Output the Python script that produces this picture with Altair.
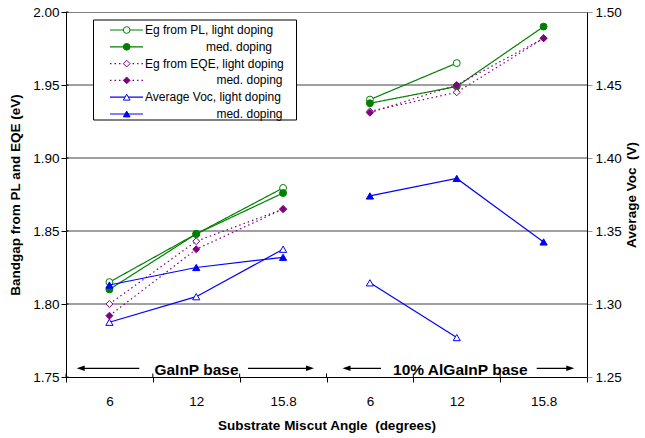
import altair as alt
import pandas as pd

# ---------------- data ----------------
angles = ["6", "12", "15.8"]
bases = ["GaInP", "AlGaInP"]

pl_light_gainp = [1.815, 1.848, 1.8795]
pl_med_gainp = [1.810, 1.848, 1.876]
pl_light_algainp = [1.940, 1.965, None]
pl_med_algainp = [1.9375, 1.949, 1.990]

eqe_light_gainp = [1.800, 1.843, 1.865]
eqe_med_gainp = [1.792, 1.8375, 1.865]
eqe_light_algainp = [1.932, 1.945, 1.982]
eqe_med_algainp = [1.931, 1.950, 1.982]

voc_light_gainp = [1.2875, 1.305, 1.3375]
voc_med_gainp = [1.313, 1.325, 1.332]
voc_light_algainp = [1.3145, 1.277, None]
voc_med_algainp = [1.374, 1.386, 1.3425]

left_ticks = [1.75, 1.80, 1.85, 1.90, 1.95, 2.00]
right_ticks = [1.25, 1.30, 1.35, 1.40, 1.45, 1.50]
grid_values = [1.80, 1.85, 1.90, 1.95]

legend_labels = ["Eg from PL, light doping", "med. doping",
                 "Eg from EQE, light doping", "med. doping",
                 "Average Voc, light doping", "med. doping"]

# ---------------- table building ----------------
slots = [f"{b}|{a}" for b in bases for a in angles]

def rows(family, doping, base, vals, field):
    out = []
    for a, v in zip(angles, vals):
        if v is None:
            continue
        out.append({"slot": f"{base}|{a}", "family": family, "doping": doping,
                    "grp": f"{family}-{doping}-{base}",
                    "fillkey": family if doping == "med" else "open",
                    field: v})
    return out

left_rows = []
left_rows += rows("PL", "light", "GaInP", pl_light_gainp, "value")
left_rows += rows("PL", "med", "GaInP", pl_med_gainp, "value")
left_rows += rows("PL", "light", "AlGaInP", pl_light_algainp, "value")
left_rows += rows("PL", "med", "AlGaInP", pl_med_algainp, "value")
left_rows += rows("EQE", "light", "GaInP", eqe_light_gainp, "value")
left_rows += rows("EQE", "med", "GaInP", eqe_med_gainp, "value")
left_rows += rows("EQE", "light", "AlGaInP", eqe_light_algainp, "value")
left_rows += rows("EQE", "med", "AlGaInP", eqe_med_algainp, "value")
left_df = pd.DataFrame(left_rows)

right_rows = []
right_rows += rows("Voc", "light", "GaInP", voc_light_gainp, "voc")
right_rows += rows("Voc", "med", "GaInP", voc_med_gainp, "voc")
right_rows += rows("Voc", "light", "AlGaInP", voc_light_algainp, "voc")
right_rows += rows("Voc", "med", "AlGaInP", voc_med_algainp, "voc")
right_df = pd.DataFrame(right_rows)

grid_df = pd.DataFrame({"value": grid_values})
lticks_df = pd.DataFrame({"value": left_ticks})
slot_df = pd.DataFrame({"slot": slots})

FONT = "Liberation Sans"
GREEN = "#008000"
PURPLE = "#800080"
BLUE = "#0000FF"
fam_domain = ["PL", "EQE", "Voc"]
fam_colors = [GREEN, PURPLE, BLUE]

OX, OY = 66, 12  # plot origin inside the page
PLOT_H = 365
def px(x):
    return x - OX
def py(y):
    return y - OY

color_enc = alt.Color("family:N", scale=alt.Scale(domain=fam_domain, range=fam_colors), legend=None)
stroke_enc = alt.Stroke("family:N", scale=alt.Scale(domain=fam_domain, range=fam_colors), legend=None)
fill_enc = alt.Fill("fillkey:N", scale=alt.Scale(domain=fam_domain + ["open"], range=fam_colors + ["white"]), legend=None)
dash_enc = alt.StrokeDash("family:N", scale=alt.Scale(domain=fam_domain, range=[[1, 0], [1.5, 3], [1, 0]]), legend=None)
shape_enc = alt.Shape("family:N", scale=alt.Scale(domain=fam_domain, range=["circle", "diamond", "triangle-up"]), legend=None)

x_scale = alt.Scale(type="band", domain=slots, paddingInner=0, paddingOuter=0)
x_axis = alt.Axis(
    labelExpr="split(datum.value, '|')[1]",
    labelAngle=0,
    tickBand="extent",
    tickSize=5,
    tickColor="black",
    domainColor="black",
    labelPadding=12,
    labelFontSize=13.5,
    titleFontSize=13.5,
    titleFontWeight="bold",
    titlePadding=11,
    grid=False,
)
x_title = "Substrate Miscut Angle\u00a0\u00a0(degrees)"
x_enc = alt.X("slot:N", scale=x_scale, sort=slots, axis=x_axis, title=x_title)
x_edge = alt.X("slot:N", scale=x_scale, sort=slots, axis=x_axis, title=x_title, bandPosition=0)

y_left = alt.Y(
    "value:Q",
    scale=alt.Scale(domain=[1.75, 2.00], nice=False, zero=False),
    axis=alt.Axis(
        orient="left",
        values=left_ticks,
        format=".2f",
        grid=False,
        tickSize=5,
        tickColor="black",
        domainColor="black",
        labelPadding=2,
        labelFontSize=13.5,
        titleFontSize=13.5,
        titleFontWeight="bold",
        titlePadding=10,
    ),
    title="Bandgap from PL and EQE (eV)",
)

y_right = alt.Y(
    "voc:Q",
    scale=alt.Scale(domain=[1.25, 1.50], nice=False, zero=False),
    axis=alt.Axis(
        orient="right",
        values=right_ticks,
        format=".2f",
        grid=False,
        tickSize=5,
        tickColor="#999999",
        domainColor="black",
        labelPadding=3,
        labelFontSize=13.5,
        titleFontSize=13.5,
        titleFontWeight="bold",
        titlePadding=17,
        titleAngle=270,
    ),
    title="Average Voc\u00a0\u00a0(V)",
)

grid = alt.Chart(grid_df).mark_rule(color="#404040", strokeWidth=1).encode(y=y_left)
inner_lticks = alt.Chart(lticks_df).mark_rule(color="black", strokeWidth=1).encode(
    y=y_left, x=alt.value(0), x2=alt.value(2.5))

left_lines = alt.Chart(left_df).mark_line(strokeWidth=1.2).encode(
    x=x_enc, y=y_left, color=color_enc, strokeDash=dash_enc, detail="grp:N")
left_points = alt.Chart(left_df).mark_point(filled=True, opacity=1, size=48, strokeWidth=1).encode(
    x=x_enc, y=y_left, shape=shape_enc, fill=fill_enc, stroke=stroke_enc)

left_layer = alt.layer(grid, inner_lticks, left_lines, left_points)

right_lines = alt.Chart(right_df).mark_line(strokeWidth=1.2).encode(
    x=x_enc, y=y_right, color=color_enc, detail="grp:N")
right_points = alt.Chart(right_df).mark_point(filled=True, opacity=1, size=52, strokeWidth=1).encode(
    x=x_enc, y=y_right, shape=shape_enc, fill=fill_enc, stroke=stroke_enc)

right_layer = alt.layer(right_lines, right_points)

# short tick stubs above the x axis at the band edges
inner_xticks = alt.Chart(slot_df).mark_rule(color="black", strokeWidth=1).encode(
    x=x_edge, y=alt.value(PLOT_H - 3.5), y2=alt.value(PLOT_H))

one = pd.DataFrame({"d": [0]})

# ---------------- annotations ----------------
ann = []
ARROW_Y = py(368.3)
LEFT_HEAD = "M0,0L2,-0.7L2,0.7Z"
RIGHT_HEAD = "M0,0L-2,-0.7L-2,0.7Z"
for (text, cx, l_tip, l_end, r_start, r_tip) in [
    ("GaInP base", 196.5, 76.7, 139.3, 248.0, 314.0),
    ("10% AlGaInP base", 460.3, 342.5, 381.0, 536.7, 574.3),
]:
    ann.append(alt.Chart(one).mark_text(text=text, font=FONT, fontSize=15.5, fontWeight="bold",
                                        align="center", baseline="alphabetic", color="black")
               .encode(x=alt.value(px(cx)), y=alt.value(py(375))))
    ann.append(alt.Chart(one).mark_rule(color="black", strokeWidth=1.3)
               .encode(x=alt.value(px(l_tip + 4)), x2=alt.value(px(l_end)), y=alt.value(ARROW_Y)))
    ann.append(alt.Chart(one).mark_rule(color="black", strokeWidth=1.3)
               .encode(x=alt.value(px(r_start)), x2=alt.value(px(r_tip - 4)), y=alt.value(ARROW_Y)))
    ann.append(alt.Chart(one).mark_point(shape=LEFT_HEAD, filled=True, color="black", opacity=1,
                                         size=64, strokeWidth=0)
               .encode(x=alt.value(px(l_tip)), y=alt.value(ARROW_Y)))
    ann.append(alt.Chart(one).mark_point(shape=RIGHT_HEAD, filled=True, color="black", opacity=1,
                                         size=64, strokeWidth=0)
               .encode(x=alt.value(px(r_tip)), y=alt.value(ARROW_Y)))

# ---------------- legend ----------------
leg = []
leg.append(alt.Chart(one).mark_rect(fill="white", stroke="black", strokeWidth=1)
           .encode(x=alt.value(px(93.5)), x2=alt.value(px(296.5)), y=alt.value(py(20)), y2=alt.value(py(120))))
leg_families = ["PL", "PL", "EQE", "EQE", "Voc", "Voc"]
leg_dopings = ["light", "med", "light", "med", "light", "med"]
fam_color = dict(zip(fam_domain, fam_colors))
fam_shape = {"PL": "circle", "EQE": "diamond", "Voc": "triangle-up"}
fam_dash = {"PL": [1, 0], "EQE": [1.5, 3], "Voc": [1, 0]}
for i, (lab, fam, dop) in enumerate(zip(legend_labels, leg_families, leg_dopings)):
    ry = py(30 + i * 16.8)
    c = fam_color[fam]
    leg.append(alt.Chart(one).mark_rule(color=c, strokeWidth=1.2, strokeDash=fam_dash[fam])
               .encode(x=alt.value(px(110)), x2=alt.value(px(143)), y=alt.value(ry)))
    leg.append(alt.Chart(one).mark_point(shape=fam_shape[fam], filled=True, opacity=1,
                                         fill=(c if dop == "med" else "white"), stroke=c,
                                         strokeWidth=1, size=45)
               .encode(x=alt.value(px(126.7)), y=alt.value(ry)))
    if dop == "light":
        tx, al = 145, "left"
    else:
        tx, al = (272 if fam == "PL" else 282.5), "right"
    leg.append(alt.Chart(one).mark_text(text=lab, font=FONT, fontSize=12, align=al,
                                        baseline="middle", color="black")
               .encode(x=alt.value(px(tx)), y=alt.value(ry)))

chart = alt.layer(left_layer, right_layer, inner_xticks, *ann, *leg).resolve_scale(y="independent").properties(
    width=521,
    height=365,
    autosize=alt.AutoSizeParams(type="none"),
    padding={"left": 66, "top": 12, "right": 58, "bottom": 61},
    background="white",
).configure_view(stroke="#808080", strokeWidth=1).configure_axis(
    labelFont=FONT, titleFont=FONT, labelColor="black", titleColor="black"
).configure_text(font=FONT)

chart.save("out.html", embed_options={"renderer": "svg", "actions": False})
